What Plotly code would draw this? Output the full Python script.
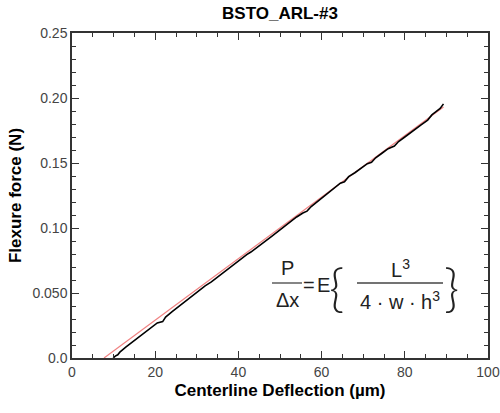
import plotly.graph_objects as go

# Measured data (black trace)
defl_um = [9.9, 10.4, 11.0, 11.5, 13, 15, 17, 19, 20.5, 21.8, 22.5, 24, 26, 28, 30, 32, 33.5, 34.3,
           36, 38, 40, 42, 43, 44, 46, 48, 50, 52, 54, 55.5, 56.5, 57.5, 59, 61, 63, 64.5, 65.5,
           66.5, 68, 69.5, 71, 72, 73, 74.5, 76, 77.5, 78.5, 80, 82, 84, 85.5, 86.5, 87.5, 88.5, 89.3]
force_N = [0.0, 0.0015, 0.0025, 0.0045, 0.0085, 0.0135, 0.0185, 0.0235, 0.0270, 0.0280, 0.0315,
           0.0355, 0.0405, 0.0455, 0.0505, 0.0555, 0.0585, 0.0605, 0.0650, 0.0698, 0.0745, 0.0795,
           0.0815, 0.0838, 0.0885, 0.0935, 0.0985, 0.1035, 0.1085, 0.1115, 0.1130, 0.1165, 0.1205,
           0.1255, 0.1305, 0.1345, 0.1355, 0.1395, 0.1425, 0.1460, 0.1495, 0.1505, 0.1540, 0.1575,
           0.1610, 0.1630, 0.1665, 0.1700, 0.1750, 0.1795, 0.1830, 0.1870, 0.1895, 0.1920, 0.1955]

# Linear fit (red trace)
fit_x = [7.7, 89.3]
fit_y = [0.0, 0.193]

# Axis ticks
x_ticks = [0, 20, 40, 60, 80, 100]
y_tickvals = [0.0, 0.05, 0.10, 0.15, 0.20, 0.25]
y_ticktext = ["0.0", "0.050", "0.10", "0.15", "0.20", "0.25"]

FONT = "Liberation Sans, Arial, sans-serif"
AX = "#333333"

fig = go.Figure()
fig.add_trace(go.Scatter(x=fit_x, y=fit_y, mode="lines",
                         line=dict(color="rgb(240,130,130)", width=1.2), showlegend=False))
fig.add_trace(go.Scatter(x=defl_um, y=force_N, mode="lines",
                         line=dict(color="black", width=1.6), showlegend=False))

axis_common = dict(showline=True, linecolor=AX, linewidth=1.5, mirror="allticks",
                   ticks="inside", tickcolor=AX, tickwidth=1.2, ticklen=7,
                   showgrid=False, zeroline=False, ticklabeloverflow="allow", automargin=False,
                   tickfont=dict(family=FONT, size=14, color="#444444"))

fig.update_xaxes(range=[0, 100], tickvals=x_ticks,
                 minor=dict(ticks="inside", dtick=5, ticklen=4, tickcolor=AX, tickwidth=1, showgrid=False),
                 title=dict(text="<b>Centerline Deflection (µm)</b>", font=dict(family=FONT, size=17, color="black"),
                            standoff=6),
                 **axis_common)
fig.update_yaxes(range=[0, 0.25], tickvals=y_tickvals, ticktext=y_ticktext,
                 minor=dict(ticks="inside", dtick=0.01, ticklen=4, tickcolor=AX, tickwidth=1, showgrid=False),
                 title=dict(text="<b>Flexure force (N)</b>", font=dict(family=FONT, size=17, color="black"),
                            standoff=6),
                 **axis_common)

# Equation annotation (pixel -> data helpers)
def px_x(px):
    return (px - 72) / 4.16

def px_y(py):
    return (358 - py) / 1300.0

eq_font = dict(family=FONT, size=20, color="#222222")
anns = [
    ("P", 287, 268),
    ("Δx", 287, 300),
    ("=", 309, 285),
    ("E", 323, 285),
    ("L<sup>3</sup>", 400, 268),
    ("4 · w · h<sup>3</sup>", 400, 300),
]
for txt, px, py in anns:
    fig.add_annotation(x=px_x(px), y=px_y(py), text=txt, showarrow=False,
                       font=eq_font, xanchor="center", yanchor="middle")
brace_font = dict(family="Lato, DejaVu Sans, sans-serif", size=52, color="#222222", weight=300)
fig.add_annotation(x=px_x(336), y=px_y(286), text="{", showarrow=False,
                   font=brace_font, xanchor="center", yanchor="middle")
fig.add_annotation(x=px_x(451), y=px_y(286), text="}", showarrow=False,
                   font=brace_font, xanchor="center", yanchor="middle")
fig.add_shape(type="line", x0=px_x(272), x1=px_x(302), y0=px_y(283), y1=px_y(283),
              line=dict(color="#444444", width=1.3))
fig.add_shape(type="line", x0=px_x(357), x1=px_x(443), y0=px_y(283), y1=px_y(283),
              line=dict(color="#444444", width=1.3))

fig.update_layout(
    width=500, height=413,
    margin=dict(l=72, r=12, t=33, b=55),
    paper_bgcolor="white", plot_bgcolor="white",
    title=dict(text="<b>BSTO_ARL-#3</b>", x=280 / 500, xanchor="center", y=1 - 13 / 413, yanchor="middle",
               font=dict(family=FONT, size=17, color="black")),
)

fig.write_html("out.html", config={"displayModeBar": False},
               post_script="document.body.style.margin='0';")
